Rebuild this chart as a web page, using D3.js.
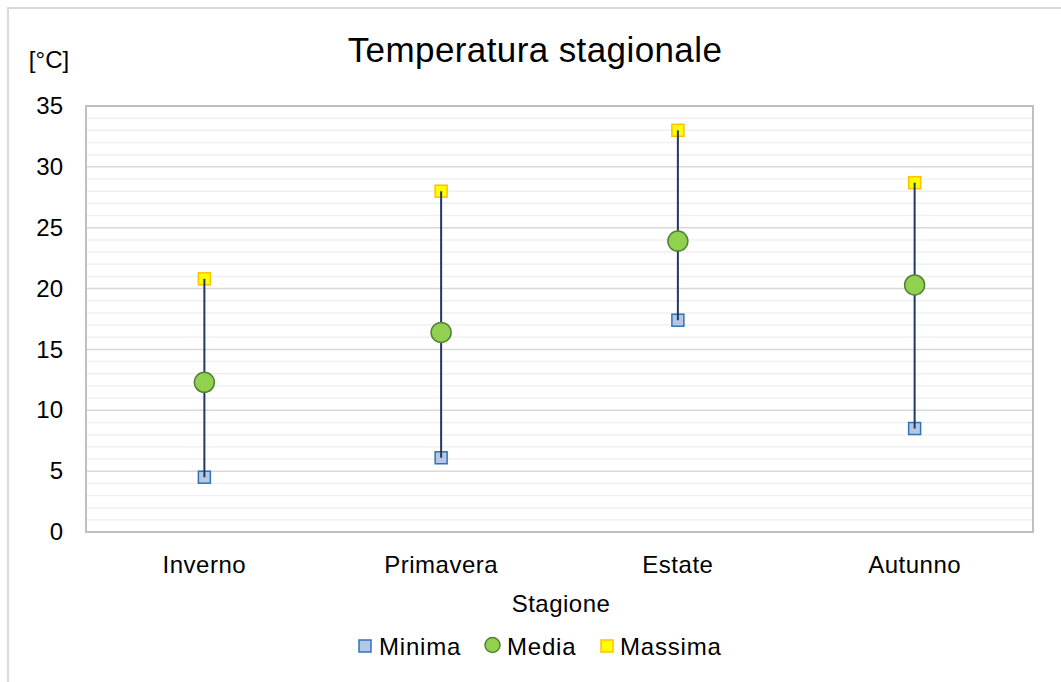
<!DOCTYPE html>
<html>
<head>
<meta charset="utf-8">
<script src="https://cdn.jsdelivr.net/npm/d3@7"></script>
<style>
  html, body { margin: 0; padding: 0; background: #fff; }
  svg { display: block; font-family: "Liberation Sans", Arial, sans-serif; }
</style>
</head>
<body>
<svg id="chart" width="1061" height="682"></svg>
<script>
// Seasonal temperatures (°C)
const seasons = ["Inverno", "Primavera", "Estate", "Autunno"];
const minima  = [4.5, 6.1, 17.4, 8.5];
const media   = [12.3, 16.4, 23.9, 20.3];
const massima = [20.8, 28.0, 33.0, 28.7];
const yTicks  = [0, 5, 10, 15, 20, 25, 30, 35];

const svg = d3.select("#chart");
const W = 1061, H = 682;
const plot = { left: 86, top: 106, right: 1033, bottom: 532 };
const FONT = "Liberation Sans, Arial, sans-serif";

// outer chart frame (top and left edges)
svg.append("path")
  .attr("d", `M8,${H} L8,8 L${W},8`)
  .attr("fill", "none").attr("stroke", "#d9d9d9").attr("stroke-width", 2);

const x = d3.scaleBand().domain(seasons).range([plot.left, plot.right]);
const y = d3.scaleLinear().domain([0, 35]).range([plot.bottom, plot.top]);

// minor gridlines (every 1°C)
const minor = d3.range(1, 35).filter(v => v % 5 !== 0);
svg.append("g").selectAll("line").data(minor).join("line")
  .attr("x1", plot.left).attr("x2", plot.right)
  .attr("y1", d => y(d)).attr("y2", d => y(d))
  .attr("stroke", "#f0f0f0").attr("stroke-width", 1.5);

// major gridlines
svg.append("g").selectAll("line").data(yTicks.slice(1, -1)).join("line")
  .attr("x1", plot.left).attr("x2", plot.right)
  .attr("y1", d => y(d)).attr("y2", d => y(d))
  .attr("stroke", "#d9d9d9").attr("stroke-width", 1.5);

// plot area border
svg.append("rect")
  .attr("x", plot.left).attr("y", plot.top)
  .attr("width", plot.right - plot.left).attr("height", plot.bottom - plot.top)
  .attr("fill", "none").attr("stroke", "#bfbfbf").attr("stroke-width", 2);

// y axis labels
const yAxis = d3.axisLeft(y).tickValues(yTicks).tickSize(0).tickPadding(23);
const gy = svg.append("g").attr("transform", `translate(${plot.left},0)`).call(yAxis);
gy.select(".domain").remove();
gy.selectAll("text").attr("font-size", 24).attr("fill", "#000").attr("font-family", FONT);

// x axis labels
const xAxis = d3.axisBottom(x).tickSize(0).tickPadding(24);
const gx = svg.append("g").attr("transform", `translate(0,${plot.bottom})`).call(xAxis);
gx.select(".domain").remove();
gx.selectAll("text").attr("font-size", 24).attr("fill", "#000").attr("font-family", FONT)
  .attr("letter-spacing", 0.5);

const cx = d => x(d) + x.bandwidth() / 2;
const rows = seasons.map((s, i) => ({ s, min: minima[i], mid: media[i], max: massima[i] }));

const sq = 12;
// minimum markers
svg.append("g").selectAll("rect").data(rows).join("rect")
  .attr("x", d => cx(d.s) - sq / 2).attr("y", d => y(d.min) - sq / 2)
  .attr("width", sq).attr("height", sq)
  .attr("fill", "#b4c7e7").attr("stroke", "#2e75b6").attr("stroke-width", 1.5);
// maximum markers
svg.append("g").selectAll("rect").data(rows).join("rect")
  .attr("x", d => cx(d.s) - sq / 2).attr("y", d => y(d.max) - sq / 2)
  .attr("width", sq).attr("height", sq)
  .attr("fill", "#ffff00").attr("stroke", "#ffc000").attr("stroke-width", 1.5);

// high-low lines
svg.append("g").selectAll("line").data(rows).join("line")
  .attr("x1", d => cx(d.s)).attr("x2", d => cx(d.s))
  .attr("y1", d => y(d.min)).attr("y2", d => y(d.max))
  .attr("stroke", "#1f3864").attr("stroke-width", 2);

// mean markers
svg.append("g").selectAll("circle").data(rows).join("circle")
  .attr("cx", d => cx(d.s)).attr("cy", d => y(d.mid)).attr("r", 10)
  .attr("fill", "#92d050").attr("stroke", "#538135").attr("stroke-width", 1.5);

// title and axis titles
svg.append("text").attr("x", 535).attr("y", 62).attr("text-anchor", "middle")
  .attr("font-size", 35).attr("letter-spacing", 0.4).attr("fill", "#000").text("Temperatura stagionale");
svg.append("text").attr("x", 49).attr("y", 68).attr("text-anchor", "middle")
  .attr("font-size", 24).attr("fill", "#000").text("[°C]");
svg.append("text").attr("x", 561).attr("y", 612).attr("text-anchor", "middle")
  .attr("font-size", 24).attr("letter-spacing", 0.5).attr("fill", "#000").text("Stagione");

// legend
const legend = [
  { label: "Minima", shape: "square", fill: "#b4c7e7", stroke: "#2e75b6", x: 359, tx: 379 },
  { label: "Media", shape: "circle", fill: "#92d050", stroke: "#538135", x: 485, tx: 507 },
  { label: "Massima", shape: "square", fill: "#ffff00", stroke: "#ffc000", x: 601, tx: 620 }
];
const lg = svg.append("g");
legend.forEach(l => {
  const ly = 646;
  if (l.shape === "square") {
    lg.append("rect").attr("x", l.x).attr("y", ly - 6).attr("width", 12).attr("height", 12)
      .attr("fill", l.fill).attr("stroke", l.stroke).attr("stroke-width", 1.5);
  } else {
    lg.append("circle").attr("cx", l.x + 7.5).attr("cy", ly - 1).attr("r", 7.5)
      .attr("fill", l.fill).attr("stroke", l.stroke).attr("stroke-width", 1.5);
  }
  lg.append("text").attr("x", l.tx).attr("y", 655)
    .attr("font-size", 24).attr("letter-spacing", 0.8).attr("fill", "#000").text(l.label);
});
</script>
</body>
</html>
